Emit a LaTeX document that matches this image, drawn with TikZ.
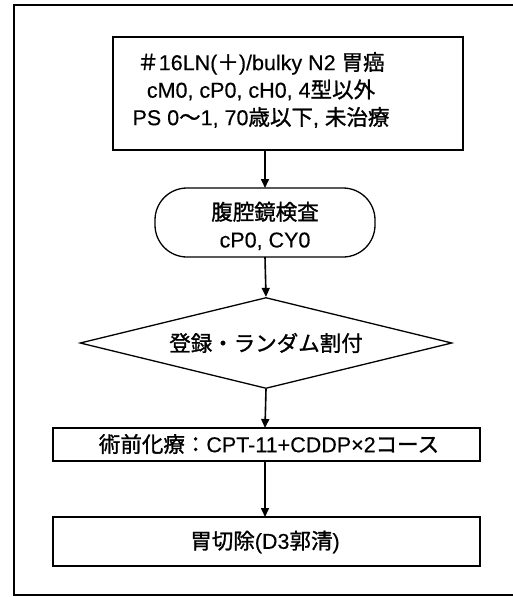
\documentclass[tikz,border=0pt]{standalone}
\usepackage{fontspec}
\setmainfont{Liberation Sans}[FakeBold=0.3]
\newfontfamily\jp{Noto Sans CJK JP}[FakeBold=1.2]
\usetikzlibrary{shapes.geometric,arrows.meta}
\newcommand{\J}[1]{{\jp #1}}
\begin{document}
\begin{tikzpicture}[x=1pt,y=-1pt,
  line width=1.3pt,
  txt/.style={font=\fontsize{21.5}{27.5}\selectfont, align=center, inner sep=0pt},
  arr/.style={-{Triangle[length=9pt,width=8pt]}, line width=1.6pt}]
\useasboundingbox (0,0) rectangle (513,597);
% outer frame (right edge lies outside the picture)
\draw[line width=1.4pt] (513,5) -- (14,5) -- (14,595) -- (513,595);
% boxes
\draw (113,37) rectangle (463,150);
\node[txt] (n1) at (261,90) {\J{＃}16LN(\J{＋})/bulky N2 \J{胃癌}\\cM0, cP0, cH0, 4\J{型以外}\\PS 0\J{〜}1, 70\J{歳以下}, \J{未治療}};
\coordinate (n1b) at (265,150);
\draw[rounded corners=32pt] (155,188) rectangle (375,257);
\node[txt] (n2) at (265,226) {\J{腹腔鏡検査}\\cP0, CY0};
\coordinate (n2t) at (265,188);
\coordinate (n2b) at (265,257);
\node[diamond, draw, aspect=4.1, minimum width=372pt, minimum height=91pt, inner sep=0pt] (n3) at (266,343) {};
\node[txt] at (n3) {\J{登録・ランダム割付}};
\draw (53,428) rectangle (480,461);
\node[txt] (n4) at (269,444) {\J{術前化療：}CPT-11+CDDP×2\J{コース}};
\coordinate (n4t) at (265,428);
\coordinate (n4b) at (265,461);
\draw (53,517) rectangle (480,566);
\node[txt] (n5) at (265,542) {\J{胃切除}(D3\J{郭清})};
\coordinate (n5t) at (265,517);
% arrows
\draw[arr] (n1b) -- (n2t);
\draw[arr] (n2b) -- (n3.north);
\draw[arr] (n3.south) -- (n4t);
\draw[arr] (n4b) -- (n5t);
\end{tikzpicture}
\end{document}
